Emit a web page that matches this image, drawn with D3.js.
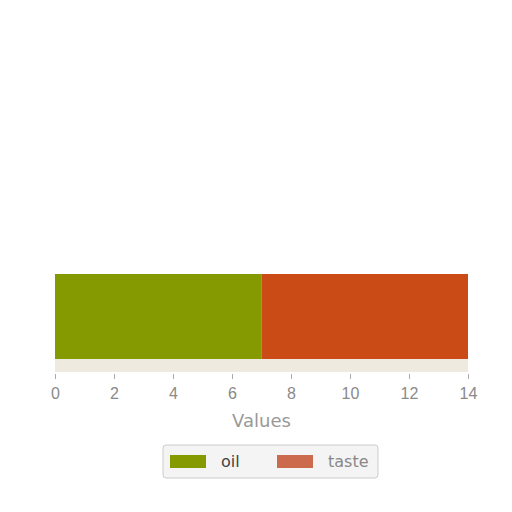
<!DOCTYPE html>
<html>
<head>
<meta charset="utf-8">
<script src="https://cdn.jsdelivr.net/npm/d3@7"></script>
<style>
  body { margin: 0; background: #fff; }
  svg { font-family: "DejaVu Sans", sans-serif; }
</style>
</head>
<body>
<script>
var series = ['oil', 'taste'];
var values = [7, 7];
var colors = ['#859900', '#cb4b16'];
var ticks = [0, 2, 4, 6, 8, 10, 12, 14];

var width = 512, height = 512;
var left = 55, right = 468;
var barTop = 274, barBottom = 359, axisY = 372;

var svg = d3.select('body').append('svg')
    .attr('width', width)
    .attr('height', height);

var x = d3.scaleLinear().domain([0, 14]).range([left, right]);

// stacked offsets
var stack = [];
var acc = 0;
values.forEach(function (v, i) {
    stack.push({name: series[i], x0: acc, x1: acc + v, color: colors[i]});
    acc += v;
});

// plot area background strip
svg.append('rect')
    .attr('x', left).attr('y', barTop)
    .attr('width', right - left).attr('height', axisY - barTop)
    .attr('fill', '#eeeae0');

svg.selectAll('rect.bar')
    .data(stack)
    .enter()
    .append('rect')
    .attr('class', 'bar')
    .attr('x', function (d) { return x(d.x0); })
    .attr('y', barTop)
    .attr('width', function (d) { return x(d.x1) - x(d.x0); })
    .attr('height', barBottom - barTop)
    .attr('fill', function (d) { return d.color; });

var axis = d3.axisBottom(x).tickValues(ticks).tickSize(5).tickPadding(9);
var g = svg.append('g')
    .attr('transform', 'translate(0,' + (axisY + 2) + ')')
    .call(axis);
g.select('.domain').remove();
g.selectAll('line').attr('stroke', '#aaa');
g.selectAll('text').attr('fill', '#8a8a8a').style('font-size', '16px');

svg.append('text')
    .text('Values')
    .attr('x', (left + right) / 2)
    .attr('y', 427)
    .attr('text-anchor', 'middle')
    .attr('fill', '#999')
    .style('font-size', '18px');

// legend
var legend = svg.append('g');
legend.append('rect')
    .attr('x', 163).attr('y', 445)
    .attr('width', 215).attr('height', 33)
    .attr('rx', 3)
    .attr('fill', '#f4f4f4')
    .attr('stroke', '#ccc');

var items = legend.selectAll('g.item')
    .data(series)
    .enter()
    .append('g')
    .attr('class', 'item')
    .attr('transform', function (d, i) { return 'translate(' + (170 + i * 107) + ',455)'; });

items.append('rect')
    .attr('width', 36).attr('height', 13)
    .attr('fill', function (d, i) { return i === 0 ? colors[0] : '#cc6a4e'; });

items.append('text')
    .text(function (d) { return d; })
    .attr('x', 51).attr('y', 12)
    .attr('fill', function (d, i) { return i === 0 ? '#444' : '#888'; })
    .style('font-size', '16px');
</script>
</body>
</html>
